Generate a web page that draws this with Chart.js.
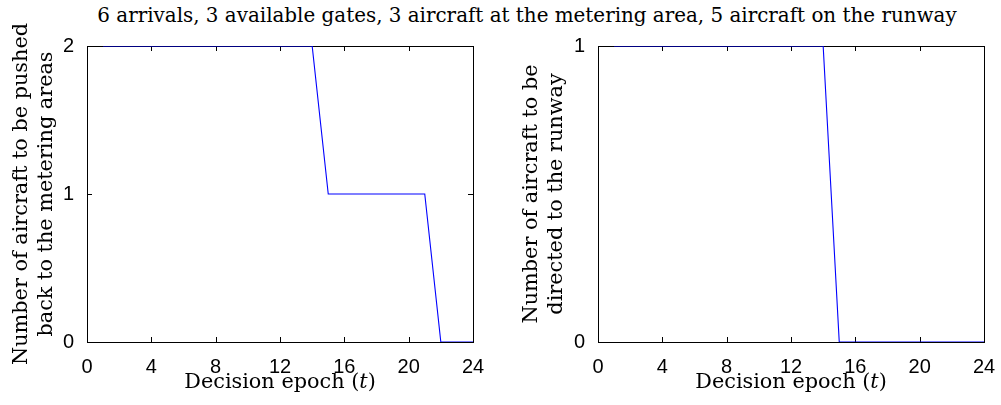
<!DOCTYPE html>
<html>
<head>
<meta charset="utf-8">
<script src="https://cdn.jsdelivr.net/npm/chart.js@4.4.1/dist/chart.umd.min.js"></script>
<style>
  body { margin: 0; background: #fff; width: 1001px; height: 405px; position: relative; overflow: hidden; }
  #title { position: absolute; left: 527px; top: 4px; transform: translateX(-50%); white-space: nowrap;
           font: 19.9px "DejaVu Serif"; color: #000; }
  canvas { position: absolute; top: 0; }
</style>
</head>
<body>
<div id="title">6 arrivals, 3 available gates, 3 aircraft at the metering area, 5 aircraft on the runway</div>
<canvas id="left" width="500" height="405" style="left:0"></canvas>
<canvas id="right" width="501" height="405" style="left:500px"></canvas>
<script>
// decision epochs and the two policies
const epochs = [1, 2, 3, 4, 5, 6, 7, 8, 9, 10, 11, 12, 13, 14, 15, 16, 17, 18, 19, 20, 21, 22, 23, 24]
const pushedBack = [2, 2, 2, 2, 2, 2, 2, 2, 2, 2, 2, 2, 2, 2, 1, 1, 1, 1, 1, 1, 1, 0, 0, 0]
const toRunway = [1, 1, 1, 1, 1, 1, 1, 1, 1, 1, 1, 1, 1, 1, 0, 0, 0, 0, 0, 0, 0, 0, 0, 0]
const xTicks = [0, 4, 8, 12, 16, 20, 24]

const SERIF = "DejaVu Serif"
const SANS = "Liberation Sans"
const LABEL_SIZE = 20.8

// matlab style box with inward ticks + x title with italic t
const frame = {
  id: "frame",
  beforeDatasetsDraw(chart) {
    const { ctx, chartArea: a, scales: { x, y } } = chart
    const seg = (x1, y1, x2, y2) => { ctx.beginPath(); ctx.moveTo(x1, y1); ctx.lineTo(x2, y2); ctx.stroke() }
    ctx.save()
    ctx.strokeStyle = "#000"
    ctx.lineWidth = 1
    ctx.strokeRect(a.left + 0.5, a.top + 0.5, a.right - a.left, a.bottom - a.top)
    x.ticks.forEach(t => {
      const px = Math.round(x.getPixelForValue(t.value)) + 0.5
      seg(px, a.bottom, px, a.bottom - 5)
      seg(px, a.top, px, a.top + 5)
    })
    y.ticks.forEach(t => {
      const py = Math.round(y.getPixelForValue(t.value)) + 0.5
      seg(a.left, py, a.left + 5, py)
      seg(a.right, py, a.right - 5, py)
    })
    ctx.restore()
  },
  afterDraw(chart) {
    const { ctx, chartArea: a } = chart
    const parts = [["Decision epoch (", "normal"], ["t", "italic"], [")", "normal"]]
    ctx.save()
    ctx.fillStyle = "#000"
    ctx.textBaseline = "middle"
    let total = 0
    parts.forEach(p => { ctx.font = `${p[1]} ${LABEL_SIZE}px "${SERIF}"`; total += ctx.measureText(p[0]).width })
    let cx = (a.left + a.right) / 2 - total / 2
    parts.forEach(p => {
      ctx.font = `${p[1]} ${LABEL_SIZE}px "${SERIF}"`
      ctx.fillText(p[0], cx, 383)
      cx += ctx.measureText(p[0]).width
    })
    ctx.restore()
  }
}

function makeChart(id, values, yMax, yTitle, yWidth, padRight, titleGap) {
  return new Chart(document.getElementById(id), {
    type: "line",
    data: {
      datasets: [{
        data: epochs.map((t, i) => ({ x: t, y: values[i] })),
        borderColor: "#0000ff",
        borderWidth: 1.1,
        pointRadius: 0,
        tension: 0,
        fill: false
      }]
    },
    options: {
      responsive: false,
      animation: false,
      layout: { padding: { top: 46, right: padRight, left: 0, bottom: 0 } },
      plugins: { legend: { display: false }, tooltip: { enabled: false } },
      scales: {
        x: {
          type: "linear", min: 0, max: 24,
          afterBuildTicks: s => { s.ticks = xTicks.map(v => ({ value: v })) },
          ticks: { color: "#000", font: { family: SANS, size: 20 }, padding: 5, maxRotation: 0 },
          grid: { display: false },
          border: { display: false },
          afterFit: s => { s.height = 63 }
        },
        y: {
          min: 0, max: yMax,
          ticks: { stepSize: 1, color: "#000", font: { family: SANS, size: 20 }, padding: 5 },
          grid: { display: false },
          border: { display: false },
          title: {
            display: true, text: yTitle, color: "#000",
            font: { family: SERIF, size: LABEL_SIZE, lineHeight: 1.2 },
            padding: { top: titleGap, bottom: 0 }
          },
          afterFit: s => { s.width = yWidth }
        }
      }
    },
    plugins: [frame]
  })
}

makeChart("left", pushedBack, 2, ["Number of aircraft to be pushed", "back to the metering areas"], 87, 27, 9)
makeChart("right", toRunway, 1, ["Number of aircraft to be", "directed to the runway"], 98, 17, 19)
</script>
</body>
</html>
